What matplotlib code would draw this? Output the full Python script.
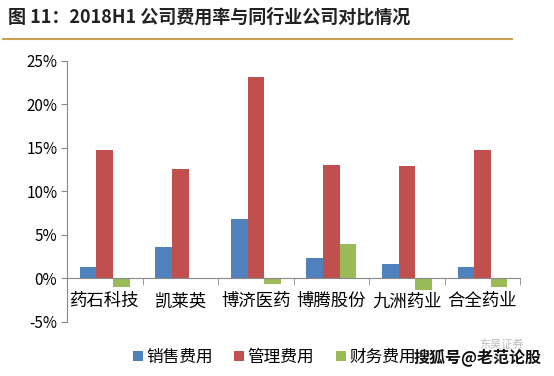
import matplotlib
matplotlib.use("Agg")
import matplotlib.pyplot as plt
import numpy as np
from matplotlib.ticker import FixedLocator, FuncFormatter

plt.rcParams['font.family'] = ['Noto Sans CJK SC', 'DejaVu Sans']

categories = ["药石科技", "凯莱英", "博济医药", "博腾股份", "九洲药业", "合全药业"]
sales = [1.3, 3.6, 6.8, 2.3, 1.7, 1.3]
admin = [14.8, 12.6, 23.1, 13.0, 12.9, 14.8]
finance = [-1.0, -0.05, -0.7, 4.0, -1.3, -1.0]
series_names = ["销售费用", "管理费用", "财务费用"]
colors = ["#4F81BD", "#C0504D", "#9BBB59"]
yticks = [-5, 0, 5, 10, 15, 20, 25]

fig = plt.figure(figsize=(5.54, 3.76), dpi=100)
ax = fig.add_axes([0.121, 0.144, 0.818, 0.694])

x = np.arange(len(categories))
w = 0.22
for i, (vals, name, c) in enumerate(zip([sales, admin, finance], series_names, colors)):
    ax.bar(x + (i - 1) * w, vals, width=w, color=c, label=name, zorder=2)

ax.set_xlim(-0.5, len(categories) - 0.5)
ax.set_ylim(-5, 25)
ax.yaxis.set_major_locator(FixedLocator(yticks))
ax.yaxis.set_major_formatter(FuncFormatter(lambda v, p: f"{int(v)}%"))
ax.tick_params(axis='y', labelsize=11, length=4, color='#888888', pad=3)

ax.spines['top'].set_visible(False)
ax.spines['right'].set_visible(False)
ax.spines['left'].set_color('#888888')
ax.spines['bottom'].set_position(('data', 0))
ax.spines['bottom'].set_color('#888888')

ax.set_xticks(x)
ax.set_xticklabels(categories, fontsize=12.5)
ax.tick_params(axis='x', length=0, pad=10)
ax.set_xticks(np.arange(len(categories) + 1) - 0.5, minor=True)
ax.tick_params(axis='x', which='minor', length=5, color='#888888', direction='out')

leg = fig.legend(loc='center', bbox_to_anchor=(0.495, 0.05), ncol=3, frameon=False,
                 fontsize=12, handlelength=0.6, handleheight=0.6, handletextpad=0.2,
                 columnspacing=1.3)

fig.text(0.015, 0.955, "图 11：2018H1 公司费用率与同行业公司对比情况", fontsize=13,
         fontweight='bold', va='center', ha='left', color='#222222')
fig.add_artist(plt.Line2D([0.005, 0.925], [0.895, 0.895], color='#C9A04E', lw=1.5,
                          transform=fig.transFigure))
fig.text(0.905, 0.085, "东吴证券", fontsize=8, va='center', ha='center', color='#BBBBBB')
fig.text(0.862, 0.05, "搜狐号@老范论股", fontsize=11.5, fontweight='bold',
         va='center', ha='center', color='#111111')

fig.savefig("out.png", dpi=100)
